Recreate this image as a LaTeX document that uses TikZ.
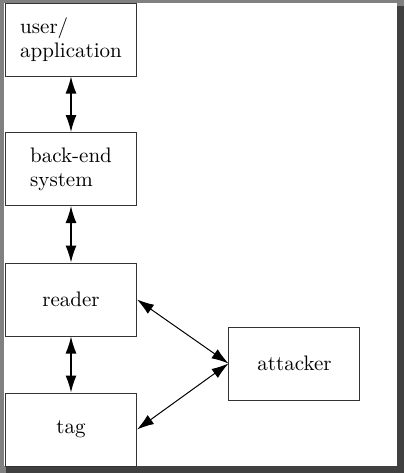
\documentclass[tikz,border=0pt]{standalone}
\usetikzlibrary{arrows.meta}
\begin{document}
\begin{tikzpicture}[x=0.5pt, y=-0.5pt,
    box/.style={draw=black!80, line width=0.5pt, fill=white, minimum width=65.5pt,
      minimum height=36.5pt, inner sep=0pt, align=left,
      font=\fontsize{10.5}{12}\selectfont},
    >={Latex[length=8.5pt,width=5.5pt]}]
    \useasboundingbox (0, 0) rectangle (404, 473) ;
    % window frame
    \fill[black!50] (0, 0) rectangle (404, 473) ;
    \fill[black!75] (6, 6) rectangle (404, 473) ;
    \fill[white] (4, 3) rectangle (397, 466) ;
    \node[box] (user) at (71, 39.5) {user/\\application} ;
    \node[box] (backend) at (71, 169) {back-end\\system} ;
    \node[box] (reader) at (71, 299.5) {reader} ;
    \node[box] (tag) at (71, 429.5) {tag} ;
    \node[box] (attacker) at (294.5, 363.5) {attacker} ;
    \draw[line width=0.7pt, <->] (user) -- (backend) ;
    \draw[line width=0.7pt, <->] (backend) -- (reader) ;
    \draw[line width=0.7pt, <->] (reader) -- (tag) ;
    \draw[line width=0.5pt, <->] (reader.east) -- (attacker.west) ;
    \draw[line width=0.5pt, <->] (attacker.west) -- (tag.east) ;
  \end{tikzpicture}
\end{document}
